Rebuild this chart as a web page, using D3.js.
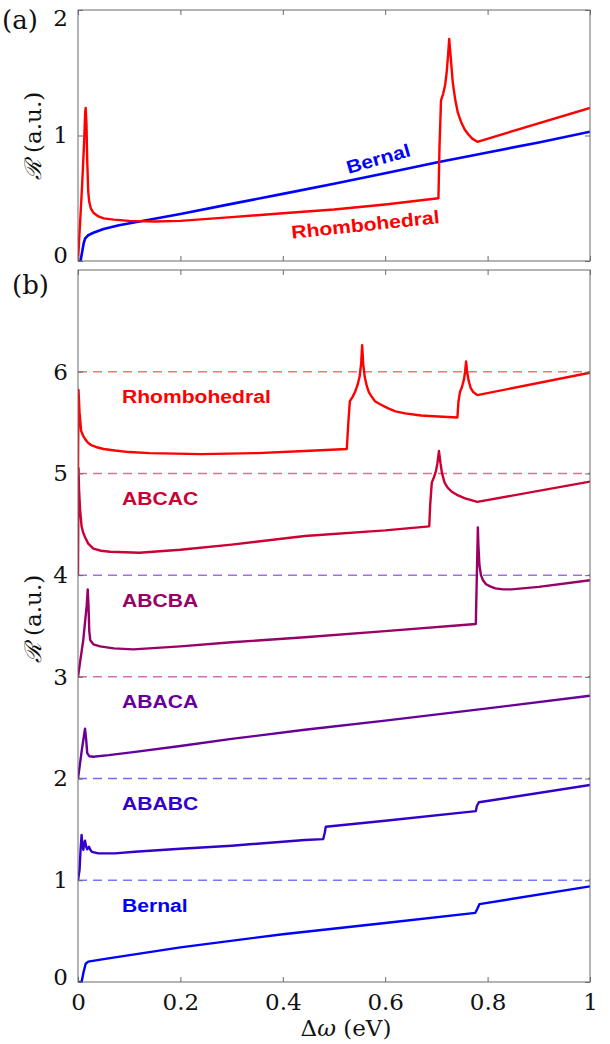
<!DOCTYPE html>
<html>
<head>
<meta charset="utf-8">
<script src="https://cdn.jsdelivr.net/npm/d3@7"></script>
<style>
  html, body { margin: 0; padding: 0; background: #fff; }
  svg { display: block; }
</style>
</head>
<body>
<svg id="chart" width="610" height="1044"></svg>
<script>
// ---------------- DATA ----------------
// x: photon energy shift (eV), y: R (a.u.)
const xTicks = [0, 0.2, 0.4, 0.6, 0.8, 1];
const xTickLabels = ["0", "0.2", "0.4", "0.6", "0.8", "1"];
const topYTicks = [0, 1, 2];
const bottomYTicks = [0, 1, 2, 3, 4, 5, 6];

// Panel (a)
const topBernal = [[0,0],[0.005,0],[0.008,0.07],[0.011,0.14],[0.014,0.18],[0.02,0.205],[0.03,0.225],[0.05,0.255],[0.08,0.285],[0.12,0.315],[0.2,0.375],[0.3,0.455],[0.4,0.535],[0.5,0.615],[0.6,0.7],[0.7,0.785],[0.8,0.865],[0.9,0.945],[1,1.03]];
const topRhombo = [[0,0],[0.008,0.6],[0.012,0.95],[0.014,1.18],[0.015,1.22],[0.0165,1.1],[0.018,0.8],[0.02,0.55],[0.022,0.47],[0.025,0.42],[0.03,0.385],[0.04,0.355],[0.05,0.34],[0.07,0.33],[0.1,0.32],[0.15,0.315],[0.2,0.32],[0.3,0.35],[0.4,0.38],[0.5,0.41],[0.6,0.45],[0.704,0.5],[0.706,0.9],[0.709,1.28],[0.713,1.33],[0.717,1.4],[0.72,1.5],[0.723,1.65],[0.725,1.77],[0.728,1.62],[0.732,1.42],[0.737,1.28],[0.742,1.18],[0.748,1.11],[0.755,1.05],[0.762,1.01],[0.77,0.975],[0.78,0.95],[1,1.22]];

// Panel (b) (curves shifted vertically by 1 each)
const rhombo = [[0,5.0],[0.001,5.82],[0.003,5.6],[0.006,5.42],[0.01,5.37],[0.015,5.33],[0.02,5.3],[0.027,5.275],[0.035,5.26],[0.05,5.24],[0.072,5.225],[0.1,5.21],[0.14,5.2],[0.24,5.19],[0.35,5.2],[0.443,5.22],[0.525,5.24],[0.528,5.5],[0.531,5.71],[0.536,5.75],[0.541,5.8],[0.546,5.87],[0.55,5.95],[0.553,6.08],[0.555,6.26],[0.557,6.08],[0.56,5.95],[0.564,5.86],[0.568,5.8],[0.573,5.76],[0.58,5.71],[0.59,5.68],[0.606,5.64],[0.62,5.61],[0.639,5.59],[0.67,5.57],[0.704,5.56],[0.741,5.55],[0.743,5.7],[0.746,5.8],[0.75,5.85],[0.754,5.93],[0.756,6.0],[0.758,6.1],[0.76,6.0],[0.763,5.91],[0.767,5.84],[0.772,5.8],[0.78,5.77],[1,5.99]];
const abcac = [[0,4.0],[0.001,5.05],[0.002,4.85],[0.004,4.65],[0.007,4.48],[0.01,4.42],[0.014,4.37],[0.02,4.31],[0.03,4.26],[0.045,4.24],[0.0625,4.23],[0.12,4.22],[0.2,4.25],[0.3,4.3],[0.443,4.385],[0.6,4.44],[0.686,4.48],[0.688,4.7],[0.691,4.91],[0.695,4.96],[0.699,5.02],[0.702,5.1],[0.705,5.22],[0.708,5.1],[0.711,5.0],[0.716,4.91],[0.722,4.86],[0.73,4.82],[0.74,4.79],[0.756,4.755],[0.78,4.72],[1,4.92]];
const abcba = [[0,3.0],[0.005,3.18],[0.01,3.35],[0.014,3.55],[0.017,3.7],[0.019,3.86],[0.0205,3.7],[0.022,3.45],[0.024,3.36],[0.03,3.32],[0.043,3.3],[0.07,3.28],[0.108,3.27],[0.2,3.3],[0.3,3.34],[0.443,3.39],[0.6,3.45],[0.777,3.52],[0.779,4.0],[0.781,4.47],[0.782,4.3],[0.784,4.1],[0.787,4.0],[0.791,3.95],[0.797,3.91],[0.805,3.89],[0.815,3.87],[0.83,3.86],[0.847,3.86],[0.9,3.885],[1,3.95]];
const abaca = [[0,2.0],[0.004,2.15],[0.008,2.3],[0.011,2.4],[0.0137,2.49],[0.016,2.38],[0.018,2.25],[0.022,2.22],[0.03,2.215],[0.06,2.23],[0.108,2.26],[0.2,2.32],[0.3,2.39],[0.443,2.48],[0.6,2.57],[0.8,2.69],[1,2.815]];
const ababc = [[0,1.0],[0.003,1.1],[0.005,1.3],[0.007,1.445],[0.0085,1.35],[0.0104,1.3],[0.012,1.36],[0.0137,1.39],[0.016,1.33],[0.018,1.305],[0.0215,1.33],[0.024,1.3],[0.027,1.28],[0.04,1.265],[0.072,1.265],[0.111,1.28],[0.2,1.31],[0.3,1.34],[0.443,1.396],[0.479,1.405],[0.482,1.47],[0.484,1.527],[0.6,1.585],[0.777,1.68],[0.779,1.73],[0.783,1.767],[1,1.937]];
const bernal = [[0,0],[0.007,0],[0.011,0.1],[0.015,0.18],[0.02,0.2],[0.05,0.225],[0.2,0.34],[0.4,0.47],[0.6,0.58],[0.776,0.68],[0.78,0.72],[0.784,0.765],[1,0.94]];

const bottomNames = ["Rhombohedral", "ABCAC", "ABCBA", "ABACA", "ABABC", "Bernal"];
const bottomSeries = [rhombo, abcac, abcba, abaca, ababc, bernal];
const bottomColors = ["#ff0000", "#cc0033", "#990066", "#660099", "#3300cc", "#0000ff"];
const dashLevels = [6, 5, 4, 3, 2, 1];
const dashColors = ["#ff7070", "#e0708e", "#a070e0", "#d070b0", "#8066e6", "#7878ff"];

// ---------------- LAYOUT ----------------
const svg = d3.select("#chart");
const X0 = 78, X1 = 590;
const x = d3.scaleLinear().domain([0, 1]).range([X0, X1]);
const yTop = d3.scaleLinear().domain([0, 2]).range([261, 10]);
const yBot = d3.scaleLinear().domain([0, 7]).range([982, 270]);

const axisColor = "#6a6a6a";
const tickFont = "'DejaVu Serif', 'Liberation Serif', serif";
const labelFont = "'Liberation Sans', Arial, sans-serif";

svg.append("defs").call(d => {
  d.append("clipPath").attr("id", "clipTop").append("rect")
    .attr("x", X0).attr("y", yTop(2)).attr("width", X1 - X0).attr("height", yTop(0) - yTop(2));
  d.append("clipPath").attr("id", "clipBot").append("rect")
    .attr("x", X0).attr("y", yBot(7)).attr("width", X1 - X0).attr("height", yBot(0) - yBot(7));
});

function frame(y, yTicks, showXLabels, labelShift) {
  const g = svg.append("g");
  const tl = 5;
  if (showXLabels) {
    g.append("g").attr("transform", `translate(0,${y.range()[0]})`)
      .call(d3.axisBottom(x).tickValues(xTicks).tickSize(-tl).tickPadding(12).tickFormat((d, i) => xTickLabels[i]))
      .call(a => a.select(".domain").remove());
  } else {
    g.append("g").attr("transform", `translate(0,${y.range()[0]})`)
      .call(d3.axisBottom(x).tickValues(xTicks).tickSize(-tl).tickFormat(""))
      .call(a => { a.select(".domain").remove(); a.selectAll("text").remove(); });
  }
  g.append("g").attr("transform", `translate(0,${y.range()[1]})`)
    .call(d3.axisTop(x).tickValues(xTicks).tickSize(-tl).tickFormat(""))
    .call(a => { a.select(".domain").remove(); a.selectAll("text").remove(); });
  g.append("g").attr("transform", `translate(${X0},0)`)
    .call(d3.axisLeft(y).tickValues(yTicks).tickSize(-tl).tickPadding(10).tickFormat(d3.format("d")))
    .call(a => a.select(".domain").remove())
    .call(a => a.selectAll(".tick text").attr("dy", d => (0.32 + (labelShift[d] || 0) / 23) + "em"));
  g.append("g").attr("transform", `translate(${X1},0)`)
    .call(d3.axisRight(y).tickValues(yTicks).tickSize(-tl).tickFormat(""))
    .call(a => { a.select(".domain").remove(); a.selectAll("text").remove(); });
  g.selectAll(".tick line").attr("stroke", axisColor).attr("stroke-width", 1);
  g.selectAll(".tick text").attr("font-family", tickFont).attr("font-size", 23).attr("fill", "#111");
  g.append("rect").attr("x", X0).attr("y", y.range()[1])
    .attr("width", X1 - X0).attr("height", y.range()[0] - y.range()[1])
    .attr("fill", "none").attr("stroke", axisColor).attr("stroke-width", 1);
  return g;
}

// ---------------- PANEL (a) ----------------
const lineTop = d3.line().x(d => x(d[0])).y(d => yTop(d[1])).curve(d3.curveLinear);
const gTop = svg.append("g").attr("clip-path", "url(#clipTop)");
gTop.append("path").datum(topBernal).attr("d", lineTop)
  .attr("fill", "none").attr("stroke", "#0000ff").attr("stroke-width", 2.6).attr("stroke-linejoin", "round");
gTop.append("path").datum(topRhombo).attr("d", lineTop)
  .attr("fill", "none").attr("stroke", "#ff0000").attr("stroke-width", 2.4).attr("stroke-linejoin", "round");
frame(yTop, topYTicks, false, {0: -6, 2: 8});

function stretchedLabel(txt, cx, cy, rot, color, anchor) {
  svg.append("text")
    .attr("transform", `translate(${cx},${cy}) rotate(${rot}) scale(1.14,1)`)
    .attr("text-anchor", anchor)
    .attr("font-family", labelFont).attr("font-weight", "bold").attr("font-size", 18.5)
    .attr("fill", color).text(txt);
}
stretchedLabel("Bernal", 380, 165, -16, "#0000ff", "middle");
stretchedLabel("Rhombohedral", 366, 231, -6, "#ff0000", "middle");

// ---------------- PANEL (b) ----------------
const lineBot = d3.line().x(d => x(d[0])).y(d => yBot(d[1])).curve(d3.curveLinear);
const gBot = svg.append("g").attr("clip-path", "url(#clipBot)");
dashLevels.forEach((lv, i) => {
  gBot.append("line").attr("x1", X0).attr("x2", X1).attr("y1", yBot(lv)).attr("y2", yBot(lv))
    .attr("stroke", dashColors[i]).attr("stroke-width", 1.5).attr("stroke-dasharray", "9,6");
});
for (let i = bottomSeries.length - 1; i >= 0; i--) {
  gBot.append("path").datum(bottomSeries[i]).attr("d", lineBot)
    .attr("fill", "none").attr("stroke", bottomColors[i]).attr("stroke-width", 2.4)
    .attr("stroke-linejoin", "round");
}
frame(yBot, bottomYTicks, true, {0: -5});

bottomNames.forEach((nm, i) => {
  stretchedLabel(nm, 122, yBot(dashLevels[i] - 0.31), 0, bottomColors[i], "start");
});

// ---------------- TEXT ----------------
svg.append("text").attr("x", 2).attr("y", 29)
  .attr("font-family", tickFont).attr("font-size", 26).attr("fill", "#111").text("(a)");
svg.append("text").attr("x", 12).attr("y", 294)
  .attr("font-family", tickFont).attr("font-size", 26).attr("fill", "#111").text("(b)");

function yLabel(cy) {
  const t = svg.append("text")
    .attr("transform", `translate(41,${cy}) rotate(-90)`)
    .attr("text-anchor", "middle")
    .attr("font-family", tickFont).attr("font-size", 23).attr("fill", "#111");
  t.append("tspan").attr("font-style", "italic").text("ℛ");
  t.append("tspan").text(" (a.u.)");
}
yLabel(136);
yLabel(619);

const xl = svg.append("text").attr("x", 346).attr("y", 1036)
  .attr("text-anchor", "middle")
  .attr("font-family", tickFont).attr("font-size", 23).attr("fill", "#111");
xl.append("tspan").text("Δ");
xl.append("tspan").attr("font-style", "italic").text("ω");
xl.append("tspan").text(" (eV)");
</script>
</body>
</html>
